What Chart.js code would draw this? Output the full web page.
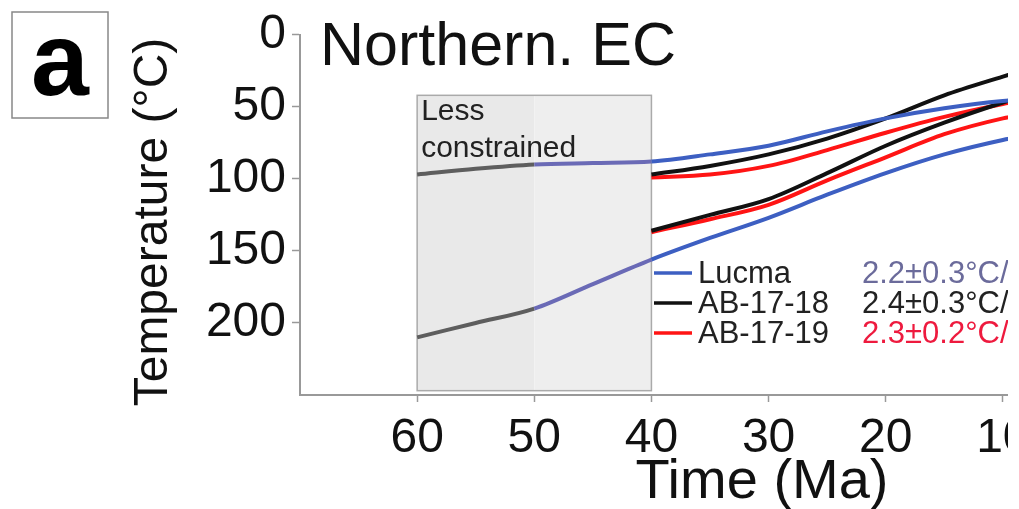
<!DOCTYPE html>
<html>
<head>
<meta charset="utf-8">
<script src="https://cdn.jsdelivr.net/npm/chart.js@4/dist/chart.umd.min.js"></script>
<style>
  html, body { margin: 0; padding: 0; background: #fff; }
  #clip { width: 1008px; height: 509px; overflow: hidden; }
  #wrap { width: 1140px; height: 509px; position: relative; }
</style>
</head>
<body>
<div id="clip"><div id="wrap"><canvas id="historyChart"></canvas></div></div>
<script>
'use strict';

// Time (Ma) for each sample
var lucmaAges = [60, 55, 50, 45, 40, 35, 30, 25, 20, 15, 10, 8];
var abAges = [40, 35, 30, 25, 20, 15, 10, 8];

// Temperature paths (°C)
var lucmaUpper = [97, 93, 90, 89, 88, 83, 77, 67, 58, 51, 46, 45];
var lucmaLower = [210, 200, 190, 173, 156, 141, 127, 111, 96, 83, 73, 70];
var ab18Upper = [97, 91, 83, 72, 58, 42, 29, 24];
var ab18Lower = [136, 125, 114, 96, 77, 61, 47, 42];
var ab19Upper = [99, 97, 91, 80, 68, 57, 48, 45];
var ab19Lower = [137, 128, 118, 101, 85, 69, 58, 55];

// legend entries
var sampleNames = ['Lucma', 'AB-17-18', 'AB-17-19'];
var rateLabels = ['2.2\u00b10.3\u00b0C/Myr', '2.4\u00b10.3\u00b0C/Myr', '2.3\u00b10.2\u00b0C/Myr'];

var xTicks = [60, 50, 40, 30, 20, 10];
var yTicks = [0, 50, 100, 150, 200];
var lessConstrained = [60, 40];   // Ma range of the shaded box
var boxTemps = [42, 247];

var BLUE = '#3d5fc2', BLACK = '#111111', RED = '#ff1414';
var FONT = '"Liberation Sans", Arial, Helvetica, sans-serif';

function pts(ages, vals) {
  return ages.map(function (a, i) { return { x: a, y: vals[i] }; });
}

function lucmaColor(ctx) {
  var x0 = ctx.p0.parsed.x;
  if (x0 > 50) return '#5e5e5e';
  if (x0 > 40) return '#6a6ab6';
  return BLUE;
}

function lineSet(label, data, color) {
  return {
    label: label,
    data: data,
    borderColor: color,
    borderWidth: 4,
    pointRadius: 0,
    tension: 0.4,
    cubicInterpolationMode: 'monotone',
    fill: false
  };
}

var datasets = [
  Object.assign(lineSet('Lucma', pts(lucmaAges, lucmaUpper), BLUE), { segment: { borderColor: lucmaColor } }),
  Object.assign(lineSet('Lucma', pts(lucmaAges, lucmaLower), BLUE), { segment: { borderColor: lucmaColor } }),
  lineSet('AB-17-18', pts(abAges, ab18Upper), BLACK),
  lineSet('AB-17-18', pts(abAges, ab18Lower), BLACK),
  lineSet('AB-17-19', pts(abAges, ab19Upper), RED),
  lineSet('AB-17-19', pts(abAges, ab19Lower), RED)
];

var boxPlugin = {
  id: 'boxPlugin',
  beforeDatasetsDraw: function (chart) {
    var c = chart.ctx, x = chart.scales.x, y = chart.scales.y;
    var x0 = x.getPixelForValue(lessConstrained[0]);
    var xm = x.getPixelForValue(50);
    var x1 = x.getPixelForValue(lessConstrained[1]);
    var y0 = y.getPixelForValue(boxTemps[0]);
    var y1 = y.getPixelForValue(boxTemps[1]);
    c.save();
    c.fillStyle = '#e9e9e9';
    c.fillRect(x0, y0, xm - x0, y1 - y0);
    c.fillStyle = '#eeeeee';
    c.fillRect(xm, y0, x1 - xm, y1 - y0);
    c.strokeStyle = '#aaaaaa';
    c.lineWidth = 1.5;
    c.strokeRect(x0, y0, x1 - x0, y1 - y0);
    c.fillStyle = '#222';
    c.font = '30px ' + FONT;
    c.textBaseline = 'alphabetic';
    c.fillText('Less', x0 + 4, y0 + 25);
    c.fillText('constrained', x0 + 4, y0 + 62);
    c.restore();
  },
  afterDraw: function (chart) {
    var c = chart.ctx;
    c.save();
    // panel letter
    c.strokeStyle = '#888';
    c.lineWidth = 1.5;
    c.strokeRect(12, 12, 96, 106);
    c.fillStyle = '#000';
    c.font = 'bold 104px ' + FONT;
    c.textAlign = 'center';
    c.textBaseline = 'alphabetic';
    c.fillText('a', 60, 95);
    // title
    c.font = '61px ' + FONT;
    c.textAlign = 'left';
    c.fillStyle = '#111';
    c.fillText('Northern. EC', 320, 65);
    // axis titles
    c.font = '56px ' + FONT;
    c.textAlign = 'center';
    c.fillText('Time (Ma)', 762, 498);
    c.font = '48px ' + FONT;
    c.save();
    c.translate(167, 222);
    c.rotate(-Math.PI / 2);
    c.fillText('Temperature (\u00b0C)', 0, 0);
    c.restore();
    // legend
    var colors = [BLUE, BLACK, RED];
    var rateColors = ['#6b6b9b', '#222222', '#ee1a3e'];
    var base = [283, 313, 343];
    c.font = '31px ' + FONT;
    c.textAlign = 'left';
    for (var i = 0; i < sampleNames.length; i++) {
      c.strokeStyle = colors[i];
      c.lineWidth = 3.5;
      c.beginPath();
      c.moveTo(654, base[i] - 10);
      c.lineTo(692, base[i] - 10);
      c.stroke();
      c.fillStyle = '#222';
      c.fillText(sampleNames[i], 698, base[i]);
      c.fillStyle = rateColors[i];
      c.fillText(rateLabels[i], 862, base[i]);
    }
    c.restore();
  }
};

var ctx = document.getElementById('historyChart').getContext('2d');
var historyChart = new Chart(ctx, {
  type: 'line',
  data: { datasets: datasets },
  options: {
    responsive: true,
    maintainAspectRatio: false,
    animation: false,
    layout: { padding: { top: 30, left: 0, right: 20, bottom: 0 } },
    plugins: { legend: { display: false }, tooltip: { enabled: false } },
    scales: {
      x: {
        type: 'linear',
        reverse: true,
        min: 0,
        max: 70,
        afterFit: function (s) { s.height = 114; },
        afterBuildTicks: function (s) { s.ticks = xTicks.map(function (v) { return { value: v }; }); },
        grid: { drawOnChartArea: false, tickLength: 7, color: '#999', tickWidth: 1.5 },
        border: { color: '#999', width: 2 },
        ticks: { color: '#111', font: { size: 48, family: FONT }, padding: 8, maxRotation: 0, autoSkip: false }
      },
      y: {
        type: 'linear',
        reverse: true,
        min: 0,
        max: 250,
        afterFit: function (s) { s.width = 300; },
        afterBuildTicks: function (s) { s.ticks = yTicks.map(function (v) { return { value: v }; }); },
        grid: { drawOnChartArea: false, tickLength: 8, color: '#999', tickWidth: 1.5 },
        border: { color: '#999', width: 2 },
        ticks: { color: '#111', font: { size: 48, family: FONT }, padding: 6, autoSkip: false }
      }
    }
  },
  plugins: [boxPlugin]
});
</script>
</body>
</html>
